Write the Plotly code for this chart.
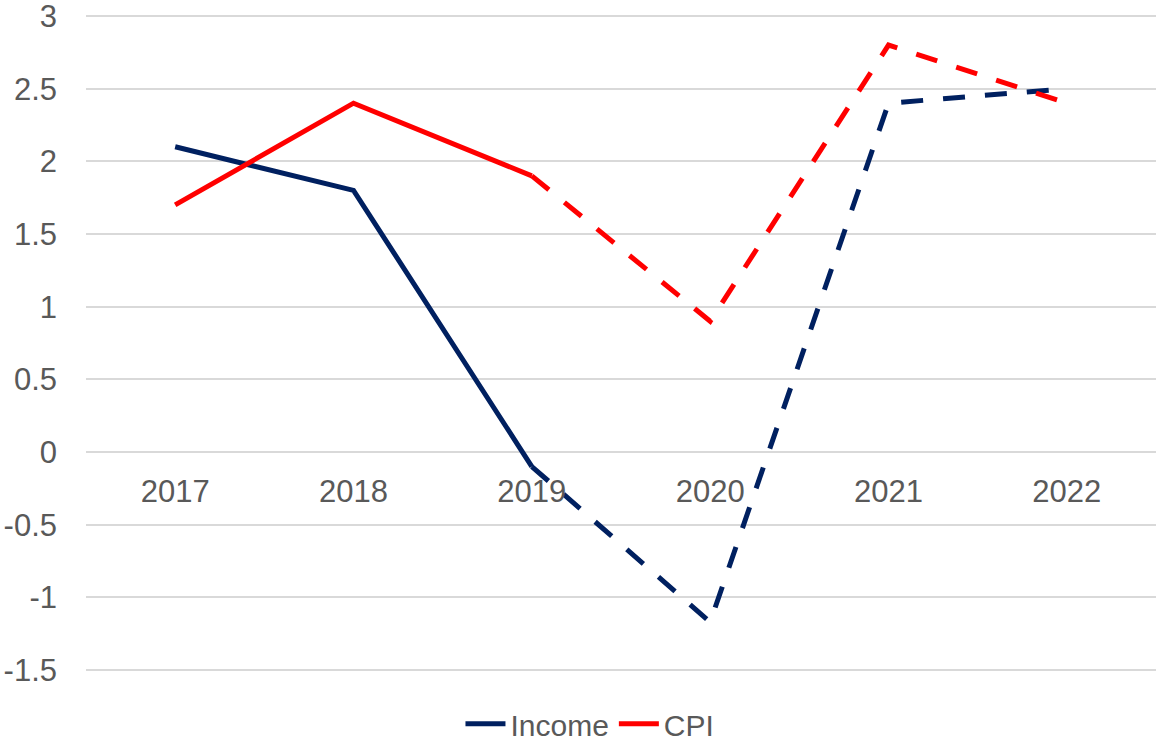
import plotly.graph_objects as go

years = ["2017", "2018", "2019", "2020", "2021", "2022"]
income = [2.1, 1.8, -0.1, -1.17, 2.4, 2.5]
cpi = [1.7, 2.4, 1.9, 0.9, 2.8, 2.4]
solid_end = 3  # points 2017-2019 solid, 2019-2022 dashed
y_ticks = [-1.5, -1, -0.5, 0, 0.5, 1, 1.5, 2, 2.5, 3]
y_ticktext = ["-1.5", "-1", "-0.5", "0", "0.5", "1", "1.5", "2", "2.5", "3"]

NAVY = "#002060"
RED = "#FF0000"
TXT = "#595959"
FONT = "Liberation Sans, Arial, sans-serif"

# small padding so the end gridlines are not clipped
pad = 0.0206
y_lo, y_hi = -1.5 - pad, 3 + pad

fig = go.Figure()
for name, vals, col in [("Income", income, NAVY), ("CPI", cpi, RED)]:
    fig.add_trace(go.Scatter(
        x=years[:solid_end], y=vals[:solid_end], mode="lines", name=name,
        line=dict(color=col, width=5), legendgroup=name, showlegend=True))
    fig.add_trace(go.Scatter(
        x=years[solid_end - 1:], y=vals[solid_end - 1:], mode="lines", name=name,
        line=dict(color=col, width=5, dash="22px,20px"), legendgroup=name,
        showlegend=False))

fig.update_layout(
    width=1156, height=741,
    margin=dict(l=86, r=0, t=13, b=68, autoexpand=False),
    plot_bgcolor="white", paper_bgcolor="white",
    font=dict(family=FONT, size=31, color=TXT),
    showlegend=True,
    legend=dict(orientation="h", x=0.471, xanchor="center", y=-0.077, yanchor="middle",
                font=dict(size=30, color=TXT), itemwidth=40, tracegroupgap=0),
    xaxis=dict(type="category", range=[-0.5, 5.5], anchor="free",
               position=(0 - y_lo) / (y_hi - y_lo),
               showgrid=False, showline=False, ticks="", ticklabelstandoff=18,
               tickfont=dict(size=31, color=TXT), zeroline=False, automargin=False),
    yaxis=dict(range=[y_lo, y_hi], tickvals=y_ticks, ticktext=y_ticktext,
               showgrid=True, gridcolor="#D9D9D9", gridwidth=1.5, zeroline=False,
               showline=False, ticks="", ticklabelstandoff=28, automargin=False,
               ticklabeloverflow="allow", tickfont=dict(size=31, color=TXT)),
)

fig.write_html("out.html", config={"displayModeBar": False},
               post_script="document.body.style.margin='0';")
